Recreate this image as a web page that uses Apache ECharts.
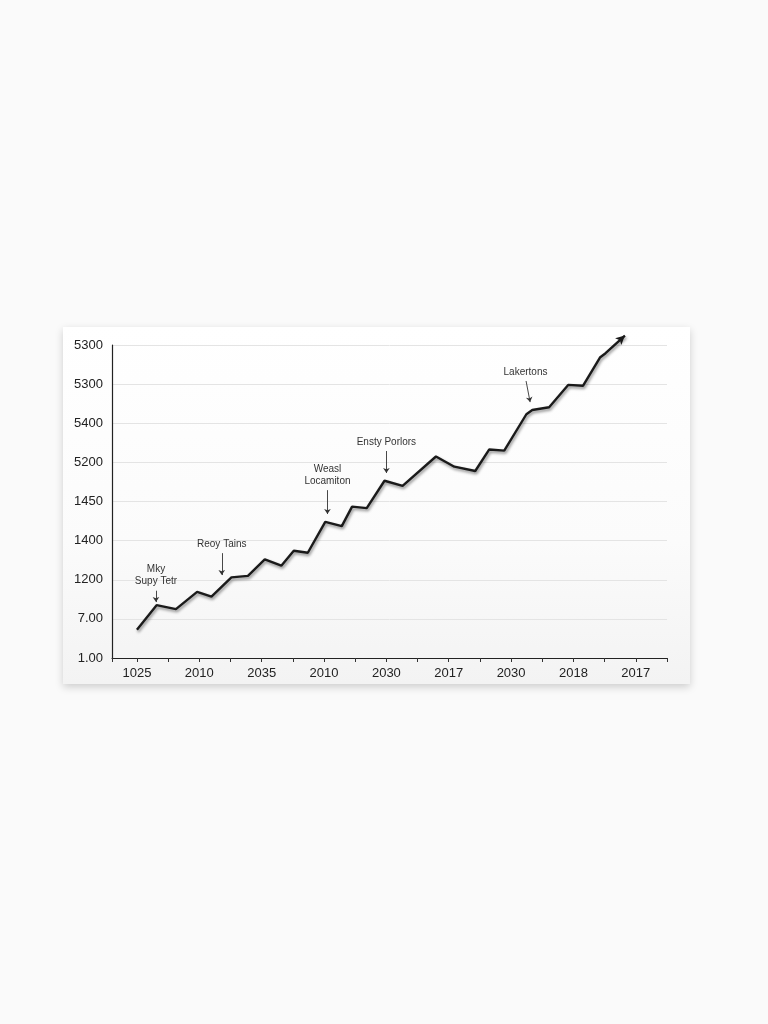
<!DOCTYPE html>
<html>
<head>
<meta charset="utf-8">
<script src="https://cdn.jsdelivr.net/npm/echarts@6/dist/echarts.min.js"></script>
<style>
  html, body { margin: 0; padding: 0; background: #fafafa; }
  #card {
    position: absolute; left: 63px; top: 327px; width: 627px; height: 357px;
    background: linear-gradient(180deg, #ffffff 0%, #fbfbfb 60%, #f3f3f3 100%);
    box-shadow: 0 3px 8px rgba(0,0,0,0.18);
  }
  #chart { position: absolute; left: 0; top: 0; width: 768px; height: 1024px; }
</style>
</head>
<body>
<div id="card"></div>
<div id="chart"></div>
<script>
// Tick labels
const yLabels = ['1.00', '7.00', '1200', '1400', '1450', '5200', '5400', '5300', '5300'];
const xLabels = ['1025', '2010', '2035', '2010', '2030', '2017', '2030', '2018', '2017'];

// Line series (x in tick units, y in gridline units)
const lineX = [0.0, 0.63, 1.25, 1.93, 2.39, 3.03, 3.56, 4.10, 4.63, 5.03, 5.48, 6.04, 6.57, 6.90, 7.37,
               7.94, 8.52, 9.59, 10.18, 10.85, 11.30, 11.78, 12.49, 12.68, 13.22, 13.83, 14.31, 14.85, 15.03, 15.65];
const lineY = [0.72, 1.35, 1.25, 1.69, 1.57, 2.06, 2.10, 2.52, 2.36, 2.74, 2.69, 3.48, 3.37, 3.87, 3.83,
               4.53, 4.40, 5.15, 4.89, 4.78, 5.33, 5.30, 6.23, 6.34, 6.41, 6.98, 6.96, 7.68, 7.79, 8.24];

// Annotations
const annTexts = ['Mky\nSupy Tetr', 'Reoy Tains', 'Weasl\nLocamiton', 'Ensty Porlors', 'Lakertons'];
const annFromX = [0.61, 2.72, 6.11, 8.00, 12.48];
const annFromY = [1.72, 2.68, 4.29, 5.29, 7.08];
const annToX   = [0.61, 2.72, 6.11, 8.00, 12.61];
const annToY   = [1.43, 2.12, 3.68, 4.73, 6.54];

const chart = echarts.init(document.getElementById('chart'), null, { renderer: 'canvas' });
const font = 'Liberation Sans, Arial, sans-serif';

const lineData = lineX.map((x, i) => [x, lineY[i]]);
const annLines = annTexts.map((t, i) => [
  { coord: [annFromX[i], annFromY[i]], label: { formatter: t } },
  { coord: [annToX[i], annToY[i]] }
]);

chart.setOption({
  backgroundColor: 'transparent',
  animation: false,
  grid: { left: 112, right: 101, top: 345, bottom: 366 },
  xAxis: {
    type: 'value', min: -0.8, max: 17, minInterval: 1, maxInterval: 1, splitNumber: 18,
    axisLine: { show: true, onZero: false, lineStyle: { color: '#222', width: 1.2 } },
    axisTick: { show: true, length: 4, lineStyle: { color: '#333', width: 1 } },
    splitLine: { show: false },
    axisLabel: {
      color: '#222', fontSize: 13, fontFamily: font, margin: 9,
      showMinLabel: true, showMaxLabel: true,
      formatter: v => {
        const r = Math.round(v);
        if (Math.abs(v - r) > 1e-6 || r % 2 !== 0 || r < 0) return '';
        return xLabels[r / 2] || '';
      }
    }
  },
  yAxis: {
    type: 'value', min: 0, max: 8, interval: 1,
    axisLine: { show: true, onZero: false, lineStyle: { color: '#222', width: 1.2 } },
    axisTick: { show: false },
    splitLine: { show: true, lineStyle: { color: '#e4e4e4', width: 1 } },
    axisLabel: {
      color: '#222', fontSize: 13, fontFamily: font, margin: 9,
      formatter: v => yLabels[Math.round(v)]
    }
  },
  series: [{
    type: 'line',
    data: lineData,
    clip: false,
    symbol: (v, p) => p.dataIndex === lineData.length - 1 ? 'arrow' : 'none',
    symbolSize: [7, 9],
    symbolRotate: -48,
    showSymbol: true,
    itemStyle: { color: '#1a1a1a' },
    lineStyle: {
      color: '#1a1a1a', width: 2.4,
      shadowColor: 'rgba(0,0,0,0.45)', shadowBlur: 3, shadowOffsetX: 1, shadowOffsetY: 2
    },
    markLine: {
      silent: true,
      symbol: ['none', 'arrow'],
      symbolSize: 5,
      lineStyle: { color: '#333', width: 0.9, type: 'solid' },
      label: {
        show: true, position: 'start', distance: 3,
        color: '#333', fontSize: 10, fontFamily: font, lineHeight: 12, align: 'center'
      },
      data: annLines
    }
  }]
});
</script>
</body>
</html>
